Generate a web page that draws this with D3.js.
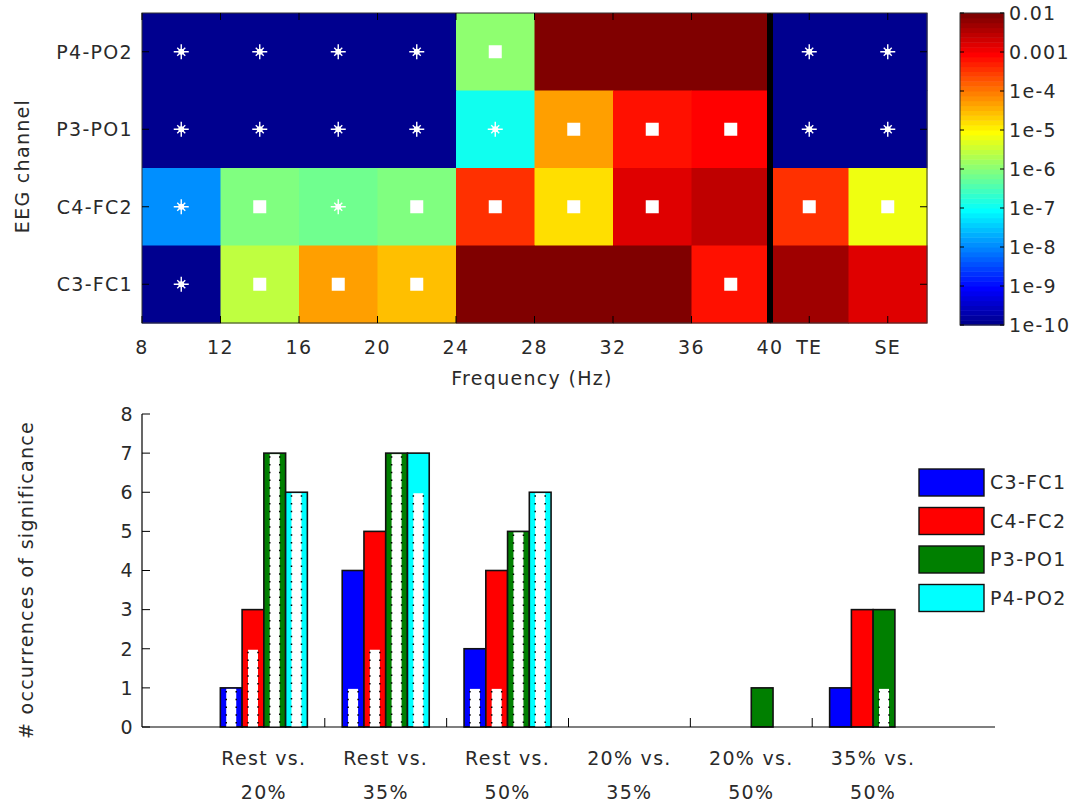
<!DOCTYPE html>
<html>
<head>
<meta charset="utf-8">
<script src="https://cdn.jsdelivr.net/npm/d3@7"></script>
<style>
  body { margin: 0; background: #fff; }
  text { font-family: "DejaVu Sans", sans-serif; fill: #2a2a2a; }
</style>
</head>
<body>
<div id="chart"></div>
<script>
// ---- heatmap data (log10 p-values, one array per channel) ----
var channels = ["P4-PO2", "P3-PO1", "C4-FC2", "C3-FC1"];   // top to bottom
var binStarts = [8, 12, 16, 20, 24, 28, 32, 36, 40, 44];    // 40 = TE, 44 = SE
var freqTicks = [8, 12, 16, 20, 24, 28, 32, 36, 40];
var extraTicks = [42, 46];
var extraLabels = ["TE", "SE"];

var logP_P4PO2 = [-10, -10, -10, -10, -6, -2, -2, -2, -10, -10];
var logP_P3PO1 = [-10, -10, -10, -10, -7, -4.26, -3.2, -3.1, -10, -10];
var logP_C4FC2 = [-8, -6.12, -6.24, -6.12, -3.5, -4.76, -2.82, -2.55, -3.38, -5.13];
var logP_C3FC1 = [-10, -5.6, -4.34, -4.6, -2, -2, -2, -3.2, -2.35, -2.8];

// 1 = asterisk, 2 = square
var mark_P4PO2 = [1, 1, 1, 1, 2, 0, 0, 0, 1, 1];
var mark_P3PO1 = [1, 1, 1, 1, 1, 2, 2, 2, 1, 1];
var mark_C4FC2 = [1, 2, 1, 2, 2, 2, 2, 0, 2, 2];
var mark_C3FC1 = [1, 2, 2, 2, 0, 0, 0, 2, 0, 0];

var cbarTicks = [-2, -3, -4, -5, -6, -7, -8, -9, -10];
var cbarLabels = ["0.01", "0.001", "1e-4", "1e-5", "1e-6", "1e-7", "1e-8", "1e-9", "1e-10"];

// ---- bar chart data ----
var compLine1 = ["Rest vs.", "Rest vs.", "Rest vs.", "20% vs.", "20% vs.", "35% vs."];
var compLine2 = ["20%", "35%", "50%", "35%", "50%", "50%"];
var barSeries = ["C3-FC1", "C4-FC2", "P3-PO1", "P4-PO2"];
var barColors = ["#0000ff", "#ff0000", "#007f00", "#00ffff"];
var cnt_C3FC1 = [1, 4, 2, 0, 0, 1];
var cnt_C4FC2 = [3, 5, 4, 0, 0, 3];
var cnt_P3PO1 = [7, 7, 5, 0, 1, 3];
var cnt_P4PO2 = [6, 7, 6, 0, 0, 0];
// inner dotted bars
var sub_C3FC1 = [1, 1, 1, 0, 0, 0];
var sub_C4FC2 = [2, 2, 1, 0, 0, 0];
var sub_P3PO1 = [7, 7, 5, 0, 0, 1];
var sub_P4PO2 = [6, 6, 6, 0, 0, 0];

var logRows = [logP_P4PO2, logP_P3PO1, logP_C4FC2, logP_C3FC1];
var markRows = [mark_P4PO2, mark_P3PO1, mark_C4FC2, mark_C3FC1];
var cntRows = [cnt_C3FC1, cnt_C4FC2, cnt_P3PO1, cnt_P4PO2];
var subRows = [sub_C3FC1, sub_C4FC2, sub_P3PO1, sub_P4PO2];

var W = 1083, H = 807;
var svg = d3.select("#chart").append("svg")
    .attr("width", W).attr("height", H);

// MATLAB style jet(64)
function jet(t) {
    var idx = Math.max(0, Math.min(63, Math.floor(t * 64)));
    var x = (idx + 1) / 64;
    function c(v) { return Math.max(0, Math.min(1, v)); }
    var r = c(Math.min(4 * x - 1.5, -4 * x + 4.5));
    var g = c(Math.min(4 * x - 0.5, -4 * x + 3.5));
    var b = c(Math.min(4 * x + 0.5, -4 * x + 2.5));
    return d3.rgb(r * 255, g * 255, b * 255).toString();
}
var tScale = d3.scaleLinear().domain([-10, -2]).range([0, 1]).clamp(true);
var color = function(v) { return jet(tScale(v)); };

var fontSize = 19, ls = 1.3;

function label(g, txt) {
    return g.append("text").style("font-size", fontSize + "px")
        .style("letter-spacing", ls + "px").text(txt);
}

// ================= heatmap =================
var x = d3.scaleLinear().domain([8, 48]).range([142, 927]);
var y = d3.scaleBand().domain(channels).range([13, 323]);

var hm = svg.append("g");
channels.forEach(function(ch, r) {
    binStarts.forEach(function(b, i) {
        hm.append("rect")
            .attr("x", x(b)).attr("y", y(ch))
            .attr("width", x(b + 4) - x(b) + 0.5)
            .attr("height", y.bandwidth() + 0.5)
            .attr("fill", color(logRows[r][i]));
    });
});

// separator between frequency bins and TE/SE
hm.append("line")
    .attr("x1", x(40)).attr("x2", x(40))
    .attr("y1", 13).attr("y2", 323)
    .attr("stroke", "#000").attr("stroke-width", 6);

// markers
channels.forEach(function(ch, r) {
    binStarts.forEach(function(b, i) {
        var m = markRows[r][i];
        var cx = x(b + 2), cy = y(ch) + y.bandwidth() / 2;
        if (m === 2) {
            hm.append("rect")
                .attr("x", cx - 6.5).attr("y", cy - 6.5)
                .attr("width", 13).attr("height", 13)
                .attr("fill", "#fff");
        } else if (m === 1) {
            var s = 7.5, d = 4;
            var p = "M" + (cx - s) + "," + cy + "H" + (cx + s) +
                    "M" + cx + "," + (cy - s) + "V" + (cy + s) +
                    "M" + (cx - d) + "," + (cy - d) + "L" + (cx + d) + "," + (cy + d) +
                    "M" + (cx - d) + "," + (cy + d) + "L" + (cx + d) + "," + (cy - d);
            hm.append("path").attr("d", p)
                .attr("stroke", "#fff").attr("stroke-width", 1.4).attr("fill", "none");
            hm.append("circle").attr("cx", cx).attr("cy", cy).attr("r", 3).attr("fill", "#fff");
        }
    });
});

// frame
hm.append("rect").attr("x", 142).attr("y", 13)
    .attr("width", 927 - 142).attr("height", 310)
    .attr("fill", "none").attr("stroke", "#333").attr("stroke-width", 1);

var tickLen = 7;
freqTicks.concat(extraTicks).forEach(function(t) {
    hm.append("line").attr("x1", x(t)).attr("x2", x(t))
        .attr("y1", 323).attr("y2", 323 - tickLen).attr("stroke", "#000");
    hm.append("line").attr("x1", x(t)).attr("x2", x(t))
        .attr("y1", 13).attr("y2", 13 + tickLen).attr("stroke", "#000");
});
freqTicks.forEach(function(t) {
    label(hm, t).attr("x", x(t)).attr("y", 354).attr("text-anchor", "middle");
});
extraTicks.forEach(function(t, i) {
    label(hm, extraLabels[i]).attr("x", x(t)).attr("y", 354).attr("text-anchor", "middle");
});
channels.forEach(function(ch) {
    var cy = y(ch) + y.bandwidth() / 2;
    hm.append("line").attr("x1", 142).attr("x2", 142 + tickLen)
        .attr("y1", cy).attr("y2", cy).attr("stroke", "#000");
    hm.append("line").attr("x1", 927).attr("x2", 927 - tickLen)
        .attr("y1", cy).attr("y2", cy).attr("stroke", "#000");
    label(hm, ch).attr("x", 133).attr("y", cy)
        .attr("dy", "0.36em").attr("text-anchor", "end");
});
label(hm, "Frequency (Hz)").attr("x", 532).attr("y", 385).attr("text-anchor", "middle");
label(hm, "EEG channel").attr("transform", "translate(29,166) rotate(-90)")
    .attr("text-anchor", "middle");

// colorbar
var cbY = d3.scaleLinear().domain([-10, -2]).range([325, 13]);
var cb = svg.append("g");
d3.range(64).forEach(function(k) {
    var v0 = -10 + k * 8 / 64, v1 = -10 + (k + 1) * 8 / 64;
    cb.append("rect").attr("x", 960).attr("width", 44)
        .attr("y", cbY(v1)).attr("height", cbY(v0) - cbY(v1) + 0.5)
        .attr("fill", jet((k + 0.5) / 64));
});
cb.append("rect").attr("x", 960).attr("y", 13).attr("width", 44).attr("height", 312)
    .attr("fill", "none").attr("stroke", "#333");
cbarTicks.forEach(function(t, i) {
    cb.append("line").attr("x1", 960).attr("x2", 964)
        .attr("y1", cbY(t)).attr("y2", cbY(t)).attr("stroke", "#000");
    cb.append("line").attr("x1", 1004).attr("x2", 1000)
        .attr("y1", cbY(t)).attr("y2", cbY(t)).attr("stroke", "#000");
    label(cb, cbarLabels[i]).attr("x", 1009).attr("y", cbY(t)).attr("dy", "0.36em");
});

// ================= bar chart =================
var bx = d3.scaleLinear().domain([0, 7]).range([142, 995]);
var by = d3.scaleLinear().domain([0, 8]).range([727, 414]);
var bw = 0.1785;
var bc = svg.append("g");

barSeries.forEach(function(s, k) {
    cntRows[k].forEach(function(v, g) {
        if (v <= 0) return;
        var cx = (g + 1) + (k - 1.5) * bw;
        var x0 = bx(cx - bw / 2), x1 = bx(cx + bw / 2);
        bc.append("rect").attr("x", x0).attr("y", by(v))
            .attr("width", x1 - x0).attr("height", by(0) - by(v))
            .attr("fill", barColors[k]).attr("stroke", "#111").attr("stroke-width", 1.6);
        var sv = subRows[k][g];
        if (sv > 0) {
            var sx = bx(cx) - 5, ex = bx(cx) + 5;
            bc.append("rect").attr("x", sx).attr("y", by(sv) + 1)
                .attr("width", ex - sx).attr("height", by(0) - by(sv) - 1)
                .attr("fill", "#fff");
            [sx, ex].forEach(function(lx) {
                bc.append("line").attr("x1", lx).attr("x2", lx)
                    .attr("y1", by(sv) + 3).attr("y2", by(0))
                    .attr("stroke", "#000").attr("stroke-width", 1.5)
                    .attr("stroke-dasharray", "1.5,6.3");
            });
        }
    });
});

// axes
bc.append("line").attr("x1", 142).attr("x2", 995).attr("y1", 727).attr("y2", 727)
    .attr("stroke", "#000").attr("stroke-width", 1.2);
bc.append("line").attr("x1", 142).attr("x2", 142).attr("y1", 414).attr("y2", 727)
    .attr("stroke", "#000").attr("stroke-width", 1.2);
d3.range(0, 9).forEach(function(t) {
    bc.append("line").attr("x1", 142).attr("x2", 150)
        .attr("y1", by(t)).attr("y2", by(t)).attr("stroke", "#000");
    label(bc, t).attr("x", 134).attr("y", by(t)).attr("dy", "0.36em")
        .attr("text-anchor", "end");
});
[1.5, 2.5, 3.5, 4.5, 5.5].forEach(function(t) {
    bc.append("line").attr("x1", bx(t)).attr("x2", bx(t))
        .attr("y1", 727).attr("y2", 718).attr("stroke", "#000");
});
compLine1.forEach(function(l, g) {
    label(bc, l).attr("x", bx(g + 1)).attr("y", 765).attr("text-anchor", "middle");
    label(bc, compLine2[g]).attr("x", bx(g + 1)).attr("y", 799).attr("text-anchor", "middle");
});
label(bc, "# occurrences of significance")
    .attr("transform", "translate(33,580) rotate(-90)")
    .attr("text-anchor", "middle");

// legend
var lg = svg.append("g");
barSeries.forEach(function(s, k) {
    var ly = 469 + k * 38.5;
    lg.append("rect").attr("x", 919).attr("y", ly).attr("width", 65).attr("height", 27)
        .attr("fill", barColors[k]).attr("stroke", "#111").attr("stroke-width", 1.4);
    label(lg, s).attr("x", 990).attr("y", ly + 13.5).attr("dy", "0.36em");
});
</script>
</body>
</html>
